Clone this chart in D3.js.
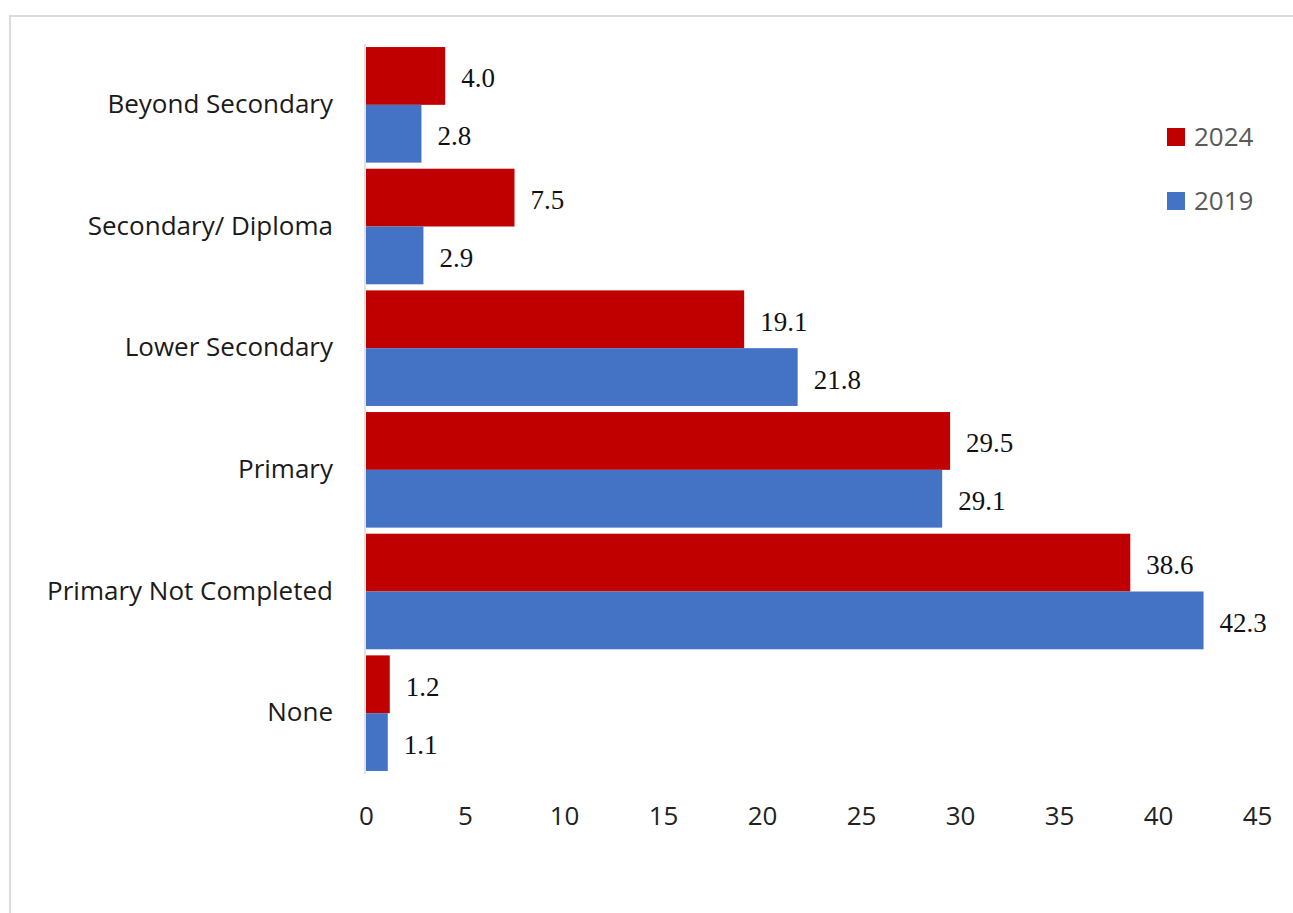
<!DOCTYPE html>
<html>
<head>
<meta charset="utf-8">
<style>
body { margin: 0; background: #fff; }
svg { display: block; }
.cat { font: 26px "Open Sans", sans-serif; fill: #1a1a1a; }
.val { font: 27px "Liberation Serif", serif; fill: #111; }
.tick text { font: 26px "Open Sans", sans-serif; fill: #222; }
.leg { font: 26px "Open Sans", sans-serif; fill: #595959; }
</style>
</head>
<body>
<svg id="chart" width="1293" height="913"></svg>
<script src="https://cdn.jsdelivr.net/npm/d3@7"></script>
<script>
var categories = ["Beyond Secondary", "Secondary/ Diploma", "Lower Secondary", "Primary", "Primary Not Completed", "None"];
var years = ["2024", "2019"];
var values2024 = [4.0, 7.5, 19.1, 29.5, 38.6, 1.2];
var values2019 = [2.8, 2.9, 21.8, 29.1, 42.3, 1.1];
var xTicks = [0, 5, 10, 15, 20, 25, 30, 35, 40, 45];

var colors = { "2024": "#C00000", "2019": "#4472C4" };

var svg = d3.select("#chart");

// outer frame (cut off at right and bottom like the screenshot)
svg.append("rect")
  .attr("x", 10).attr("y", 16)
  .attr("width", 1300).attr("height", 920)
  .attr("fill", "none")
  .attr("stroke", "#dcdcdc")
  .attr("stroke-width", 2);

var x = d3.scaleLinear().domain([0, 45]).range([366, 1257]);

var y = d3.scaleBand()
  .domain(categories)
  .range([44, 774])
  .paddingInner(0.05)
  .paddingOuter(0.025);

var sub = d3.scaleBand().domain(years).range([0, y.bandwidth()]);

var rows = categories.map(function(c, i) {
  return { cat: c, vals: [ { year: "2024", v: values2024[i] }, { year: "2019", v: values2019[i] } ] };
});

// y axis line
svg.append("line")
  .attr("x1", x(0) - 1).attr("x2", x(0) - 1)
  .attr("y1", y.range()[0]).attr("y2", y.range()[1])
  .attr("stroke", "#d9d9d9").attr("stroke-width", 1.5);

var g = svg.selectAll("g.row")
  .data(rows)
  .enter().append("g")
  .attr("class", "row")
  .attr("transform", function(d) { return "translate(0," + y(d.cat) + ")"; });

g.selectAll("rect")
  .data(function(d) { return d.vals; })
  .enter().append("rect")
  .attr("x", x(0))
  .attr("y", function(d) { return sub(d.year); })
  .attr("width", function(d) { return x(d.v) - x(0); })
  .attr("height", sub.bandwidth())
  .attr("fill", function(d) { return colors[d.year]; });

g.selectAll("text.val")
  .data(function(d) { return d.vals; })
  .enter().append("text")
  .attr("class", "val")
  .attr("x", function(d) { return x(d.v) + 16; })
  .attr("y", function(d) { return sub(d.year) + sub.bandwidth() / 2 + 2; })
  .attr("dy", "0.35em")
  .text(function(d) { return d.v.toFixed(1); });

// category labels
svg.selectAll("text.cat")
  .data(categories)
  .enter().append("text")
  .attr("class", "cat")
  .attr("x", 333)
  .attr("y", function(d) { return y(d) + y.bandwidth() / 2 - 1; })
  .attr("dy", "0.35em")
  .attr("text-anchor", "end")
  .text(function(d) { return d; });

// x axis (labels only)
var xAxis = svg.append("g")
  .attr("transform", "translate(0,801)")
  .call(d3.axisBottom(x).tickValues(xTicks).tickSize(0).tickPadding(6));
xAxis.select(".domain").remove();

// legend
var leg = svg.selectAll("g.leg")
  .data(years)
  .enter().append("g")
  .attr("transform", function(d, i) { return "translate(1167," + (128 + i * 64) + ")"; });
leg.append("rect")
  .attr("width", 18).attr("height", 18)
  .attr("fill", function(d) { return colors[d]; });
leg.append("text")
  .attr("class", "leg")
  .attr("x", 27).attr("y", 9)
  .attr("dy", "0.35em")
  .text(function(d) { return d; });
</script>
</body>
</html>
